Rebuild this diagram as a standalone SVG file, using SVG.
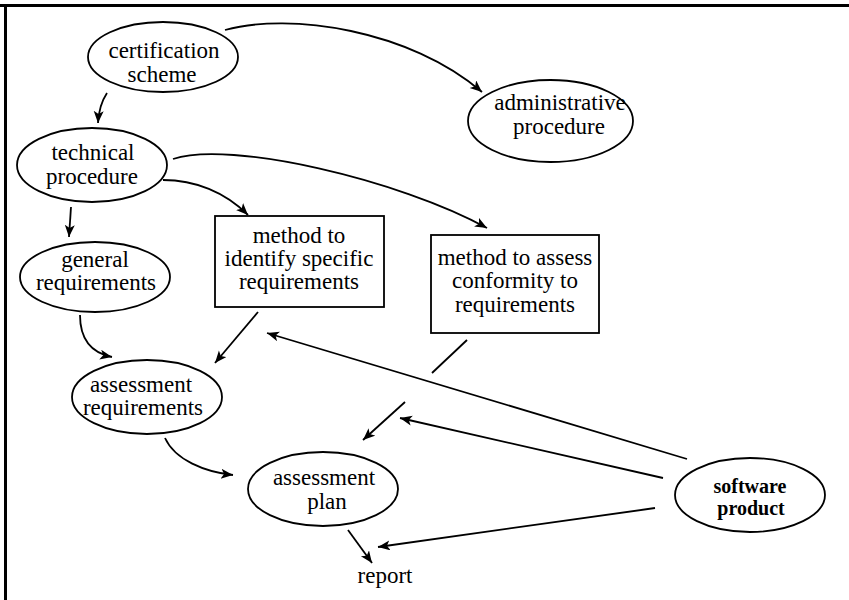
<svg xmlns="http://www.w3.org/2000/svg" width="849" height="600" viewBox="0 0 849 600">
  <style>
    .node { fill: #ffffff; stroke: #000000; stroke-width: 1.8; }
    .label { font-family: "Liberation Serif", "Times New Roman", serif; font-size: 23px; fill: #000000; text-anchor: middle; }
    .bold { font-weight: bold; font-size: 20px; }
    .edge { fill: none; stroke: #000000; stroke-width: 1.8; }
    .frame { fill: none; stroke: #000000; stroke-width: 3; }
  </style>
  <defs>
    <marker id="arrow" markerUnits="userSpaceOnUse" markerWidth="14" markerHeight="12" refX="12" refY="5" orient="auto">
      <path d="M0,0 L12,5 L0,10 L3,5 z" fill="#000000"/>
    </marker>
  </defs>

  <rect width="849" height="600" fill="#ffffff"/>

  <!-- page frame (top and left rules) -->
  <path class="frame" d="M0,5.5 H849 M5.5,4 V600"/>

  <!-- connectors -->
  <g id="connectors">
    <path class="edge" d="M225,30 C290,12 410,30 482,92" marker-end="url(#arrow)"/>
    <path class="edge" d="M107,93 Q99,105 98,123" marker-end="url(#arrow)"/>
    <path class="edge" d="M71,207 L69,237" marker-end="url(#arrow)"/>
    <path class="edge" d="M163,180 C195,180 225,192 248,215" marker-end="url(#arrow)"/>
    <path class="edge" d="M173,159 C230,140 400,180 487,228" marker-end="url(#arrow)"/>
    <path class="edge" d="M80,315 C80,340 92,353 112,357" marker-end="url(#arrow)"/>
    <path class="edge" d="M258,312 L215,363" marker-end="url(#arrow)"/>
    <path class="edge" d="M165,438 C175,460 205,472 233,475" marker-end="url(#arrow)"/>
    <path class="edge" d="M467,340 L432,373"/>
    <path class="edge" d="M405,402 L363,440" marker-end="url(#arrow)"/>
    <path class="edge" d="M687,459 L267,333" marker-end="url(#arrow)"/>
    <path class="edge" d="M663,478 L400,418" marker-end="url(#arrow)"/>
    <path class="edge" d="M655,508 L378,547" marker-end="url(#arrow)"/>
    <path class="edge" d="M348,530 L372,563" marker-end="url(#arrow)"/>
  </g>

  <!-- nodes -->
  <g id="certification-scheme">
    <ellipse class="node" cx="163" cy="57" rx="75" ry="35"/>
    <text class="label" x="164" y="58">certification</text>
    <text class="label" x="162" y="82">scheme</text>
  </g>

  <g id="administrative-procedure">
    <ellipse class="node" cx="550.5" cy="121" rx="82.5" ry="41"/>
    <text class="label" x="560" y="110">administrative</text>
    <text class="label" x="559" y="134">procedure</text>
  </g>

  <g id="technical-procedure">
    <ellipse class="node" cx="92" cy="165" rx="75" ry="37"/>
    <text class="label" x="93" y="160">technical</text>
    <text class="label" x="92" y="184">procedure</text>
  </g>

  <g id="general-requirements">
    <ellipse class="node" cx="95" cy="277" rx="75" ry="35"/>
    <text class="label" x="95" y="267">general</text>
    <text class="label" x="96" y="290">requirements</text>
  </g>

  <g id="method-identify">
    <rect class="node" x="215" y="216" width="169" height="91"/>
    <text class="label" x="299" y="243">method to</text>
    <text class="label" x="299" y="266">identify specific</text>
    <text class="label" x="299" y="289">requirements</text>
  </g>

  <g id="method-assess">
    <rect class="node" x="431" y="235" width="168" height="98"/>
    <text class="label" x="515" y="265">method to assess</text>
    <text class="label" x="515" y="288">conformity to</text>
    <text class="label" x="515" y="312">requirements</text>
  </g>

  <g id="assessment-requirements">
    <ellipse class="node" cx="147" cy="397" rx="75" ry="37"/>
    <text class="label" x="141" y="392">assessment</text>
    <text class="label" x="143" y="415">requirements</text>
  </g>

  <g id="assessment-plan">
    <ellipse class="node" cx="323" cy="489" rx="75" ry="37"/>
    <text class="label" x="324" y="485">assessment</text>
    <text class="label" x="327" y="509">plan</text>
  </g>

  <g id="software-product">
    <ellipse class="node" cx="750" cy="495" rx="75" ry="37"/>
    <text class="label bold" x="750" y="493">software</text>
    <text class="label bold" x="751" y="515">product</text>
  </g>

  <g id="report">
    <text class="label" x="385" y="583">report</text>
  </g>
</svg>
